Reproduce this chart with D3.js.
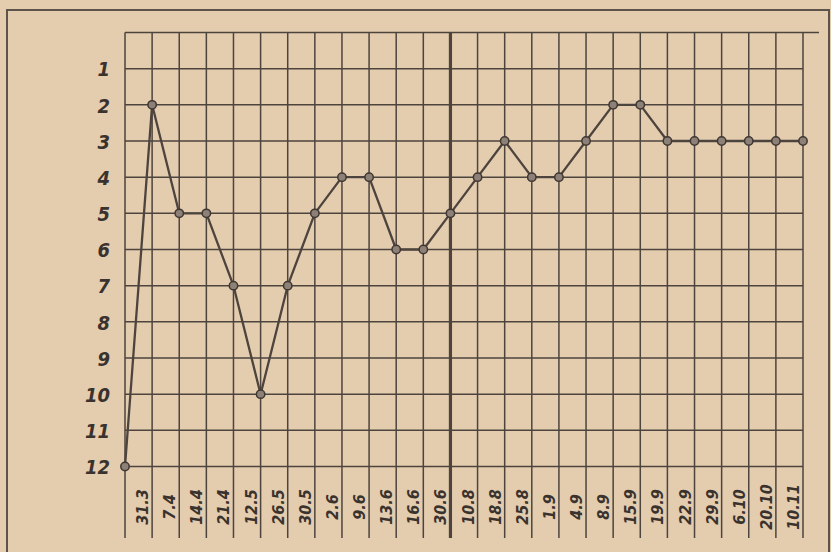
<!DOCTYPE html>
<html>
<head>
<meta charset="utf-8">
<script src="https://cdn.jsdelivr.net/npm/d3@7"></script>
<style>
  html, body { margin: 0; padding: 0; background: #e4ccaf; }
  svg { display: block; }
  .lbl { font-family: "DejaVu Sans Condensed", "DejaVu Sans", sans-serif; font-style: italic; fill: #3a322d; }
</style>
</head>
<body>
<svg id="chart" width="831" height="552"></svg>
<script>
// dates under the columns (first column is the starting position, no date)
const dates = ["", "31.3", "7.4", "14.4", "21.4", "12.5", "26.5", "30.5", "2.6", "9.6", "13.6", "16.6", "30.6",
  "10.8", "18.8", "25.8", "1.9", "4.9", "8.9", "15.9", "19.9", "22.9", "29.9", "6.10", "20.10", "10.11"];
// place in the table
const places = [12, 2, 5, 5, 7, 10, 7, 5, 4, 4, 6, 6, 5, 4, 3, 4, 4, 3, 2, 2, 3, 3, 3, 3, 3, 3];
const placeTicks = [1, 2, 3, 4, 5, 6, 7, 8, 9, 10, 11, 12];
const splitDate = "30.6";

const svg = d3.select("#chart");
const ink = "#4d443e";

const x = d3.scaleLinear().domain([0, dates.length - 1]).range([125, 803]);
const y = d3.scaleLinear().domain([0, 12]).range([32.5, 466.5]);
const gridBottom = 538;

// outer frame
svg.append("rect")
  .attr("x", 7).attr("y", 10)
  .attr("width", 822).attr("height", 560)
  .attr("fill", "none")
  .attr("stroke", "#5e534b")
  .attr("stroke-width", 2);

const grid = svg.append("g");

// horizontal lines
grid.selectAll("line.h")
  .data(d3.range(0, 13))
  .enter().append("line")
  .attr("class", "h")
  .attr("x1", x(0))
  .attr("x2", d => d === 0 ? x(dates.length - 1) + 16 : x(dates.length - 1))
  .attr("y1", d => y(d))
  .attr("y2", d => y(d))
  .attr("stroke", ink)
  .attr("stroke-width", 1.5);

// vertical lines
grid.selectAll("line.v")
  .data(dates)
  .enter().append("line")
  .attr("class", "v")
  .attr("x1", (d, i) => x(i))
  .attr("x2", (d, i) => x(i))
  .attr("y1", y(0))
  .attr("y2", gridBottom)
  .attr("stroke", ink)
  .attr("stroke-width", d => d === splitDate ? 3.2 : 1.5);

// y labels
const yAxis = svg.append("g")
  .attr("transform", "translate(110,0)")
  .call(d3.axisLeft(y).tickValues(placeTicks).tickSize(0).tickPadding(0));
yAxis.select(".domain").remove();
yAxis.selectAll("text")
  .attr("class", "lbl")
  .attr("fill", null)
  .style("font-size", "20px")
  .style("font-weight", "bold")
  .attr("dy", "0.36em");

// x labels, rotated, sitting just left of their line
svg.append("g").selectAll("text")
  .data(dates)
  .enter().append("text")
  .attr("class", "lbl")
  .attr("transform", (d, i) => `translate(${x(i) - 4},507) rotate(-90)`)
  .attr("text-anchor", "middle")
  .style("font-size", "16px")
  .style("font-weight", "bold")
  .text(d => d);

// the line
const line = d3.line()
  .x((d, i) => x(i))
  .y(d => y(d));

svg.append("path")
  .datum(places)
  .attr("d", line)
  .attr("fill", "none")
  .attr("stroke", ink)
  .attr("stroke-width", 2.3)
  .attr("stroke-linejoin", "round");

svg.append("g").selectAll("circle")
  .data(places)
  .enter().append("circle")
  .attr("cx", (d, i) => x(i))
  .attr("cy", d => y(d))
  .attr("r", 4.2)
  .attr("fill", "#8c8077")
  .attr("stroke", "#3f3732")
  .attr("stroke-width", 1.5);
</script>
</body>
</html>
